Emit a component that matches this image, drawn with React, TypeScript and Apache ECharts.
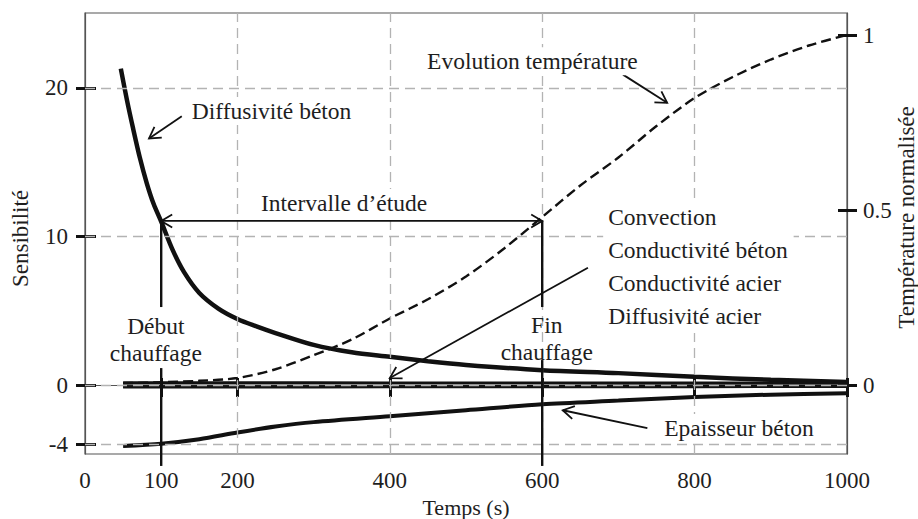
import React, { useEffect, useRef } from "react";
import * as echarts from "echarts";

const FONT = '"Liberation Serif", "Times New Roman", serif';

// ---- axes ----
const xTickValues = [100, 200, 400, 600, 800, 1000];
const xLabelValues = [0, 100, 200, 400, 600, 800, 1000];
const xGridValues = [200, 400, 600, 800];
const leftTickValues = [-4, 0, 10, 20];
const rightTickValues = [0, 0.5, 1];

// ---- series (time in s, sensitivity on left axis) ----
const diffBetonTime = [47, 55, 63, 72, 81, 90, 100, 115, 130, 150, 175, 200, 225, 250, 300, 350, 400, 450, 500, 600, 700, 800, 900, 1000];
const diffBetonValues = [21.3, 19.2, 17.3, 15.3, 13.6, 12.2, 11.0, 9.1, 7.6, 6.2, 5.15, 4.45, 3.95, 3.5, 2.7, 2.2, 1.9, 1.6, 1.35, 1.0, 0.8, 0.55, 0.35, 0.2];

const epaisseurTime = [50, 100, 150, 200, 250, 300, 400, 500, 600, 700, 800, 900, 1000];
const epaisseurValues = [-4.1, -3.95, -3.65, -3.2, -2.8, -2.5, -2.1, -1.7, -1.3, -1.05, -0.8, -0.65, -0.55];

const flatTime = [50, 200, 400, 600, 800, 1000];
const convectionValues = [0.17, 0.17, 0.16, 0.16, 0.16, 0.15];
const condBetonValues = [0.12, 0.12, 0.11, 0.11, 0.1, 0.1];
const condAcierValues = [-0.1, -0.1, -0.1, -0.09, -0.09, -0.08];
const diffAcierValues = [-0.15, -0.15, -0.14, -0.14, -0.13, -0.12];

// ---- normalised temperature (right axis) ----
const tempTime = [50, 100, 150, 200, 250, 300, 350, 400, 450, 500, 550, 600, 650, 700, 750, 800, 850, 900, 950, 1000];
const tempValues = [0.005, 0.008, 0.012, 0.02, 0.045, 0.085, 0.13, 0.19, 0.245, 0.31, 0.39, 0.48, 0.57, 0.65, 0.74, 0.82, 0.88, 0.93, 0.97, 1.0];

const startHeating = 100;
const endHeating = 600;

const pairs = (xs: number[], ys: number[]) => xs.map((x, i) => [x, ys[i]]);

export default function App() {
  const ref = useRef<HTMLDivElement>(null);

  useEffect(() => {
    const el = ref.current!;
    const chart = echarts.init(el, null, { renderer: "svg" });
    const axisColor = "#555";
    const textColor = "#1e1e1e";
    const ink = "#111";
    const labelStyle = { color: textColor, fontFamily: FONT, fontSize: 23 };
    const fmt = (v: number) => String(v);

    const lineSeries = (name: string, xs: number[], ys: number[], width: number, yAxisIndex = 0, extra: any = {}) => ({
      name,
      type: "line",
      yAxisIndex,
      data: pairs(xs, ys),
      showSymbol: false,
      symbol: "none",
      smooth: 0.3,
      z: 3,
      silent: true,
      lineStyle: { color: ink, width, ...extra },
    });

    const option: any = {
      animation: false,
      backgroundColor: "#fff",
      grid: {
        left: 85, right: 71, top: 13, bottom: 65,
        show: true, borderColor: axisColor, borderWidth: 1.2,
        containLabel: false, outerBoundsMode: "none",
      },
      xAxis: [
        {
          type: "value", min: 0, max: 1000, position: "bottom",
          axisLine: { show: true, lineStyle: { color: axisColor, width: 1.2 } },
          axisTick: { show: true, customValues: xTickValues, length: 12, lineStyle: { color: ink, width: 3 } },
          axisLabel: { customValues: xLabelValues, margin: 15, formatter: fmt, ...labelStyle },
          splitLine: { show: false },
          name: "Temps (s)", nameLocation: "middle", nameGap: 38,
          nameTextStyle: { color: textColor, fontFamily: FONT, fontSize: 22 },
        },
        {
          type: "value", min: 0, max: 1000, position: "bottom",
          axisLine: { show: false },
          axisTick: { show: true, inside: true, customValues: xTickValues, length: 7, lineStyle: { color: ink, width: 3 } },
          axisLabel: { show: false },
          splitLine: { show: false },
        },
      ],
      yAxis: [
        {
          type: "value", min: -4.646, max: 25.05, position: "left",
          axisLine: { show: true, lineStyle: { color: axisColor, width: 1.2 } },
          axisTick: { show: true, customValues: leftTickValues, length: 9, lineStyle: { color: ink, width: 3 } },
          axisLabel: { customValues: leftTickValues, margin: 17, formatter: fmt, ...labelStyle },
          splitLine: { show: false },
        },
        {
          type: "value", min: -4.646, max: 25.05, position: "left",
          axisLine: { show: false },
          axisTick: { show: true, inside: true, customValues: leftTickValues, length: 11, lineStyle: { color: ink, width: 3 } },
          axisLabel: { show: false },
          splitLine: { show: false },
        },
        {
          type: "value", min: -0.1971, max: 1.0629, position: "right",
          axisLine: { show: true, lineStyle: { color: axisColor, width: 1.2 } },
          axisTick: { show: true, customValues: rightTickValues, length: 10, lineStyle: { color: ink, width: 3 } },
          axisLabel: { customValues: rightTickValues, margin: 16, formatter: fmt, ...labelStyle },
          splitLine: { show: false },
        },
        {
          type: "value", min: -0.1971, max: 1.0629, position: "right",
          axisLine: { show: false },
          axisTick: { show: true, inside: true, customValues: rightTickValues, length: 9, lineStyle: { color: ink, width: 3 } },
          axisLabel: { show: false },
          splitLine: { show: false },
        },
      ],
      series: [
        {
          name: "grille",
          type: "line",
          data: [[0, 0]],
          showSymbol: false,
          symbol: "none",
          lineStyle: { opacity: 0 },
          z: 1,
          silent: true,
          markLine: {
            silent: true,
            symbol: "none",
            label: { show: false },
            lineStyle: { color: "#b3b3b3", width: 1.3, type: [10, 6] },
            data: [
              ...xGridValues.map((v) => ({ xAxis: v })),
              ...leftTickValues.map((v) => ({ yAxis: v })),
            ],
          },
        },
        lineSeries("Diffusivité béton", diffBetonTime, diffBetonValues, 4.5),
        lineSeries("Epaisseur béton", epaisseurTime, epaisseurValues, 4),
        lineSeries("Convection", flatTime, convectionValues, 2.5),
        lineSeries("Conductivité béton", flatTime, condBetonValues, 2.5),
        lineSeries("Conductivité acier", flatTime, condAcierValues, 2.5),
        lineSeries("Diffusivité acier", flatTime, diffAcierValues, 2.5),
        lineSeries("Evolution température", tempTime, tempValues, 2.4, 2, { type: [10, 5] }),
      ],
    };
    chart.setOption(option);

    // ---- annotations, placed in data coordinates (left axis) ----
    const px = (t: number, v: number) =>
      chart.convertToPixel({ xAxisIndex: 0, yAxisIndex: 0 } as any, [t, v]) as number[];

    const seg = (a: number[], b: number[], w = 1.8) => ({
      type: "line", z: 100, silent: true,
      shape: { x1: a[0], y1: a[1], x2: b[0], y2: b[1] },
      style: { stroke: ink, lineWidth: w },
    });
    const head = (tip: number[], tail: number[]) => {
      const dx = tip[0] - tail[0], dy = tip[1] - tail[1];
      const len = Math.hypot(dx, dy);
      const ux = dx / len, uy = dy / len;
      const L = 11, W = 6.5;
      return {
        type: "polyline", z: 100, silent: true,
        shape: {
          points: [
            [tip[0] - L * ux - W * uy, tip[1] - L * uy + W * ux],
            [tip[0], tip[1]],
            [tip[0] - L * ux + W * uy, tip[1] - L * uy - W * ux],
          ],
        },
        style: { stroke: ink, lineWidth: 1.8, fill: null },
      };
    };
    const arrow = (from: number[], to: number[]) => {
      const a = px(from[0], from[1]);
      const b = px(to[0], to[1]);
      return [seg(a, b), head(b, a)];
    };
    const txt = (s: string, p: number[], align: string, extra: any = {}) => ({
      type: "text", z: 101, silent: true,
      x: p[0], y: p[1],
      style: {
        text: s, fill: textColor, fontFamily: FONT, fontSize: 23.5,
        align, verticalAlign: "middle", ...extra,
      },
    });

    const intervalLevel = 11.05;
    const iA = px(startHeating, intervalLevel);
    const iB = px(endHeating, intervalLevel);

    // axis titles (vertical), centred beside their axes
    const gridTop = px(0, 25.05)[1];
    const gridBottom = px(0, -4.646)[1];
    const gridLeft = px(0, 0)[0];
    const gridRight = px(1000, 0)[0];
    const vTitle = (s: string, x: number, y: number) => ({
      type: "text", z: 101, silent: true, x, y, rotation: Math.PI / 2,
      style: { text: s, fill: textColor, fontFamily: FONT, fontSize: 23, align: "center", verticalAlign: "middle" },
    });

    const graphic: any[] = [
      vTitle("Sensibilité", gridLeft - 65, (gridTop + gridBottom) / 2 + 5),
      vTitle("Température normalisée", gridRight + 59, (gridTop + gridBottom) / 2 - 16),
      // vertical heating markers
      seg(px(startHeating, intervalLevel), px(startHeating, 5.25), 2.4),
      seg(px(startHeating, 1.14), px(startHeating, -5.45), 2.4),
      seg(px(endHeating, intervalLevel), px(endHeating, 5.25), 2.4),
      seg(px(endHeating, 1.68), px(endHeating, -5.45), 2.4),
      // study interval double arrow
      seg(iA, iB),
      head(iA, iB),
      head(iB, iA),
      ...arrow([706, 20.9], [764, 19.0]),
      ...arrow([127, 18.1], [84, 16.6]),
      ...arrow([660, 7.9], [400, 0.47]),
      ...arrow([738, -2.9], [627, -1.7]),
      txt("Diffusivité béton", px(135, 18.45), "left", { backgroundColor: "#fff", padding: [2, 30, 2, 4] }),
      txt("Evolution température", px(443.6, 21.8), "left", { backgroundColor: "#fff", padding: [2, 4, 2, 4] }),
      txt("Intervalle d’étude", px(340, 12.26), "center", { backgroundColor: "#fff", padding: [2, 14, 2, 14] }),
      txt("Début\nchauffage", px(93, 3.07), "center", { lineHeight: 27 }),
      txt("Fin\nchauffage", px(606, 3.13), "center", { lineHeight: 27 }),
      txt("Convection\nConductivité béton\nConductivité acier\nDiffusivité acier", px(680, 7.95), "left",
        { lineHeight: 33, backgroundColor: "#fff", padding: [0, 6, 0, 5] }),
      txt("Epaisseur béton", px(751, -2.9), "left", { backgroundColor: "#fff", padding: [2, 10, 2, 7] }),
    ];
    chart.setOption({ graphic });

    return () => chart.dispose();
  }, []);

  return (
    <div
      ref={ref}
      style={{ position: "fixed", left: 0, top: 0, width: 918, height: 519, background: "#fff" }}
    />
  );
}
